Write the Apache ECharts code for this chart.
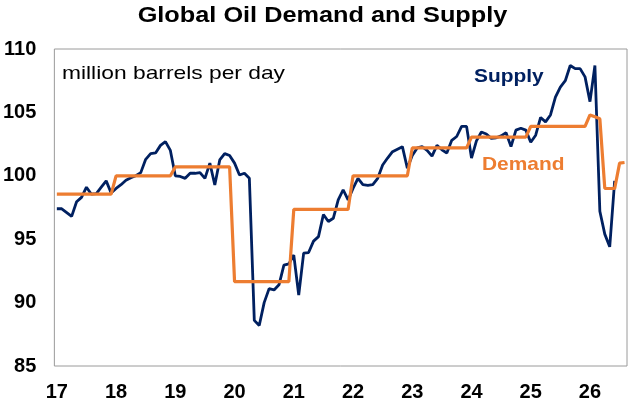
<!DOCTYPE html>
<html>
<head>
<meta charset="utf-8">
<script src="https://cdn.jsdelivr.net/npm/echarts@6/dist/echarts.min.js"></script>
<style>
html,body{margin:0;padding:0;background:#fff;}
#chart{width:635px;height:410px;}
</style>
</head>
<body>
<div id="chart"></div>
<script>
// ---- data (million barrels per day), monthly Jan 2017 - Aug 2026 ----
const yearLabels = ['17','18','19','20','21','22','23','24','25','26'];
const monthsShownLastYear = 8;
const yTicks = [85, 90, 95, 100, 105, 110];

const supply2017 = [97.4, 97.4, 97.1, 96.8, 97.95, 98.3, 99.1, 98.55, 98.6, 99.1, 99.6, 98.65];
const supply2018 = [99.0, 99.3, 99.65, 99.85, 100.0, 100.25, 101.3, 101.75, 101.8, 102.4, 102.7, 102.0];
const supply2019 = [100.0, 99.95, 99.8, 100.2, 100.2, 100.25, 99.8, 101.0, 99.27, 101.25, 101.75, 101.6];
const supply2020 = [101.0, 100.06, 100.2, 99.8, 88.6, 88.2, 90.0, 91.1, 91.0, 91.4, 92.95, 93.05];
const supply2021 = [93.75, 90.6, 93.9, 93.95, 94.85, 95.2, 96.95, 96.4, 96.65, 98.1, 98.9, 98.1];
const supply2022 = [99.0, 99.8, 99.3, 99.25, 99.3, 99.8, 100.85, 101.4, 101.9, 102.1, 102.3, 100.6];
const supply2023 = [101.6, 102.2, 102.3, 102.0, 101.55, 102.4, 102.05, 101.8, 102.8, 103.1, 103.9, 103.9];
const supply2024 = [101.4, 102.75, 103.45, 103.3, 102.95, 103.0, 103.15, 103.4, 102.3, 103.6, 103.75, 103.6];
const supply2025 = [102.65, 103.2, 104.6, 104.25, 104.8, 106.2, 107.0, 107.5, 108.7, 108.45, 108.45, 107.8];
const supply2026 = [105.85, 108.7, 97.2, 95.4, 94.4, 99.6];

// annual demand levels 2017-2025, then monthly for 2026
const demandAnnual = [98.55, 100.0, 100.7, 91.65, 97.35, 100.0, 102.2, 103.05, 103.9];
const demand2026 = [104.8, 104.65, 104.5, 99.0, 99.0, 99.0, 101.0, 101.05];

// ---- build tables for the library ----
const categories = [];
yearLabels.forEach((y, i) => {
  const n = (i === yearLabels.length - 1) ? monthsShownLastYear : 12;
  for (let m = 1; m <= n; m++) categories.push(y + '-' + m);
});
const supply = [].concat(supply2017, supply2018, supply2019, supply2020, supply2021,
                         supply2022, supply2023, supply2024, supply2025, supply2026);
const demand = [];
demandAnnual.forEach(v => { for (let m = 0; m < 12; m++) demand.push(v); });
demand2026.forEach(v => demand.push(v));

const FONT = '"Liberation Sans", Arial, sans-serif';
const NAVY = '#002060';
const ORANGE = '#ED7D31';

const chart = echarts.init(document.getElementById('chart'), null, {renderer: 'canvas'});
chart.setOption({
  animation: false,
  backgroundColor: '#fff',
  grid: {
    left: 54, right: 8, top: 49, bottom: 44,
    show: true, borderColor: '#9a9a9a', borderWidth: 1, backgroundColor: 'transparent'
  },
  xAxis: {
    type: 'category',
    data: categories,
    boundaryGap: true,
    axisLine: {show: false},
    axisTick: {show: false},
    splitLine: {show: false},
    axisLabel: {
      interval: (idx, val) => val.endsWith('-1'),
      formatter: val => val.split('-')[0],
      color: '#000', fontFamily: FONT, fontSize: 20, fontWeight: 'bold', margin: 16
    }
  },
  yAxis: {
    type: 'value',
    min: yTicks[0], max: yTicks[yTicks.length - 1], interval: yTicks[1] - yTicks[0],
    axisLine: {show: false},
    axisTick: {show: false},
    splitLine: {show: false},
    axisLabel: {color: '#000', fontFamily: FONT, fontSize: 20, fontWeight: 'bold', margin: 18}
  },
  series: [
    {
      name: 'Supply', type: 'line', data: supply, showSymbol: false, symbol: 'none',
      lineStyle: {color: NAVY, width: 2.8}, itemStyle: {color: NAVY}, z: 2
    },
    {
      name: 'Demand', type: 'line', data: demand, showSymbol: false, symbol: 'none',
      lineStyle: {color: ORANGE, width: 3.2}, itemStyle: {color: ORANGE}, z: 3
    }
  ],
  graphic: [
    {type: 'text', x: 322.5, y: 16.2, scaleX: 1.15,
     style: {text: 'Global Oil Demand and Supply', font: 'bold 22px ' + FONT, fill: '#000',
             textAlign: 'center', textVerticalAlign: 'middle'}},
    {type: 'text', x: 62, y: 74.2, scaleX: 1.2,
     style: {text: 'million barrels per day', font: '19px ' + FONT, fill: '#000',
             textAlign: 'left', textVerticalAlign: 'middle'}},
    {type: 'text', x: 474, y: 76.3, scaleX: 1.1,
     style: {text: 'Supply', font: 'bold 19px ' + FONT, fill: NAVY,
             textAlign: 'left', textVerticalAlign: 'middle'}},
    {type: 'text', x: 482, y: 165, scaleX: 1.1,
     style: {text: 'Demand', font: 'bold 19px ' + FONT, fill: ORANGE,
             textAlign: 'left', textVerticalAlign: 'middle'}}
  ]
});
</script>
</body>
</html>
